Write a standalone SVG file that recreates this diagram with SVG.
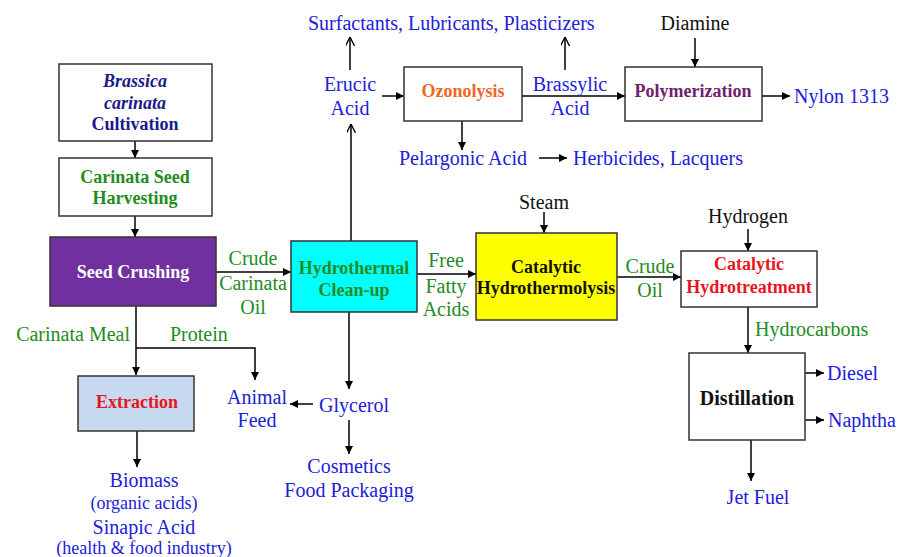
<svg xmlns="http://www.w3.org/2000/svg" width="898" height="557" viewBox="0 0 898 557" font-family="'Liberation Serif', Tinos, 'Times New Roman', 'DejaVu Serif', serif">
<defs>
<marker id="ah" viewBox="0 0 10 10" refX="10" refY="5" markerWidth="8" markerHeight="8" markerUnits="userSpaceOnUse" orient="auto">
<path d="M0,0 L10,5 L0,10 z" fill="#000"/>
</marker>
<marker id="oa" viewBox="0 0 10 10" refX="10" refY="5" markerWidth="9" markerHeight="9" markerUnits="userSpaceOnUse" orient="auto">
<path d="M0,0 L10,5 L0,10" fill="none" stroke="#000" stroke-width="1.5"/>
</marker>
</defs>
<style>
text{font-family:'Liberation Serif', Tinos, 'Times New Roman', 'DejaVu Serif', serif;font-size:20px}
.c{text-anchor:middle}
.b{font-weight:bold;font-size:18px}
.blue{fill:#2020d8}
.green{fill:#228b22}
.blk{fill:#111}
.box{stroke:#333;stroke-width:1.5;fill:#fff}
.ln{stroke:#000;stroke-width:1.5;fill:none}
.sm{font-size:18px}
</style>
<rect width="898" height="557" fill="#fff"/>

<g id="connectors">
<line class="ln" x1="135" y1="141" x2="135" y2="158" marker-end="url(#ah)"/>
<line class="ln" x1="135" y1="216" x2="135" y2="237" marker-end="url(#ah)"/>
<line class="ln" x1="216" y1="272" x2="291" y2="272" marker-end="url(#ah)"/>
<line class="ln" x1="351" y1="241" x2="351" y2="124" marker-end="url(#oa)"/>
<line class="ln" x1="350" y1="70" x2="350" y2="37" marker-end="url(#oa)"/>
<line class="ln" x1="382" y1="96" x2="404" y2="96" marker-end="url(#ah)"/>
<line class="ln" x1="522" y1="96" x2="625" y2="96" marker-end="url(#ah)"/>
<line class="ln" x1="565" y1="70" x2="565" y2="37" marker-end="url(#oa)"/>
<line class="ln" x1="462" y1="121" x2="462" y2="150" marker-end="url(#ah)"/>
<line class="ln" x1="539" y1="158" x2="567" y2="158" marker-end="url(#ah)"/>
<line class="ln" x1="695" y1="38" x2="695" y2="67" marker-end="url(#ah)"/>
<line class="ln" x1="762" y1="96" x2="790" y2="96" marker-end="url(#ah)"/>
<line class="ln" x1="417" y1="274" x2="476" y2="274" marker-end="url(#ah)"/>
<line class="ln" x1="544" y1="212" x2="544" y2="233" marker-end="url(#ah)"/>
<line class="ln" x1="617" y1="277" x2="681" y2="277" marker-end="url(#ah)"/>
<line class="ln" x1="748" y1="229" x2="748" y2="251" marker-end="url(#ah)"/>
<line class="ln" x1="748" y1="307" x2="748" y2="353" marker-end="url(#ah)"/>
<line class="ln" x1="805" y1="373" x2="824" y2="373" marker-end="url(#ah)"/>
<line class="ln" x1="805" y1="420" x2="824" y2="420" marker-end="url(#ah)"/>
<line class="ln" x1="751" y1="440" x2="751" y2="481" marker-end="url(#ah)"/>
<line class="ln" x1="136" y1="306" x2="136" y2="375" marker-end="url(#ah)"/>
<polyline class="ln" points="136,348 255,348 255,380" marker-end="url(#ah)"/>
<line class="ln" x1="349" y1="312" x2="349" y2="389" marker-end="url(#ah)"/>
<line class="ln" x1="313" y1="404" x2="290" y2="404" marker-end="url(#ah)"/>
<line class="ln" x1="349" y1="420" x2="349" y2="454" marker-end="url(#ah)"/>
<line class="ln" x1="137" y1="431" x2="137" y2="467" marker-end="url(#ah)"/>
</g>

<g id="cultivation">
<rect class="box" x="59" y="64" width="153" height="77"/>
<text class="c b" x="135" y="87" fill="#1a1a8c" font-style="italic">Brassica</text>
<text class="c b" x="135" y="109" fill="#1a1a8c" font-style="italic">carinata</text>
<text class="c b" x="135" y="130" fill="#1a1a8c">Cultivation</text>
</g>
<g id="harvesting">
<rect class="box" x="59" y="158" width="153" height="58"/>
<text class="c b green" x="135" y="183">Carinata Seed</text>
<text class="c b green" x="135" y="204">Harvesting</text>
</g>
<g id="crushing">
<rect x="50" y="237" width="166" height="69" fill="#7030a0" stroke="#333" stroke-width="1.5"/>
<text class="c b" x="133" y="278" fill="#fff">Seed Crushing</text>
</g>
<g id="crude-carinata-oil">
<text class="c green" x="253" y="265">Crude</text>
<text class="c green" x="253" y="290">Carinata</text>
<text class="c green" x="253" y="314">Oil</text>
</g>
<g id="hydrothermal">
<rect x="291" y="241" width="126" height="71" fill="#00ffff" stroke="#333" stroke-width="1.5"/>
<text class="c b green" x="354" y="274">Hydrothermal</text>
<text class="c b green" x="354" y="296">Clean-up</text>
</g>
<g id="erucic">
<text class="c blue" x="350" y="91">Erucic</text>
<text class="c blue" x="350" y="115">Acid</text>
</g>
<g id="surfactants">
<text class="blue" x="308" y="30">Surfactants, Lubricants, Plasticizers</text>
</g>
<g id="ozonolysis">
<rect class="box" x="404" y="67" width="118" height="54"/>
<text class="c b" x="463" y="97" fill="#f26522">Ozonolysis</text>
</g>
<g id="brassylic">
<text class="c blue" x="570" y="91">Brassylic</text>
<text class="c blue" x="570" y="115">Acid</text>
</g>
<g id="pelargonic">
<text class="blue" x="399" y="165">Pelargonic Acid</text>
</g>
<g id="herbicides">
<text class="blue" x="573" y="165">Herbicides, Lacquers</text>
</g>
<g id="diamine">
<text class="c blk" x="695" y="30">Diamine</text>
</g>
<g id="polymerization">
<rect class="box" x="625" y="67" width="137" height="54"/>
<text class="c b" x="693" y="97" fill="#70206e">Polymerization</text>
</g>
<g id="nylon">
<text class="blue" x="794" y="103">Nylon 1313</text>
</g>
<g id="ffa">
<text class="c green" x="446" y="267">Free</text>
<text class="c green" x="446" y="293">Fatty</text>
<text class="c green" x="446" y="316">Acids</text>
</g>
<g id="steam">
<text class="c blk" x="544" y="209">Steam</text>
</g>
<g id="hydrothermolysis">
<rect x="476" y="233" width="141" height="87" fill="#ffff00" stroke="#333" stroke-width="1.5"/>
<text class="c b blk" x="546" y="273">Catalytic</text>
<text class="c b blk" x="546" y="294">Hydrothermolysis</text>
</g>
<g id="crude-oil">
<text class="c green" x="650" y="273">Crude</text>
<text class="c green" x="650" y="297">Oil</text>
</g>
<g id="hydrogen">
<text class="c blk" x="748" y="223">Hydrogen</text>
</g>
<g id="hydrotreatment">
<rect class="box" x="681" y="251" width="136" height="56"/>
<text class="c b" x="749" y="270" fill="#e8141e">Catalytic</text>
<text class="c b" x="749" y="293" fill="#e8141e">Hydrotreatment</text>
</g>
<g id="hydrocarbons">
<text class="green" x="755" y="336">Hydrocarbons</text>
</g>
<g id="distillation">
<rect class="box" x="689" y="353" width="116" height="87"/>
<text class="c blk" x="747" y="405" font-weight="bold">Distillation</text>
</g>
<g id="diesel"><text class="blue" x="827" y="380">Diesel</text></g>
<g id="naphtha"><text class="blue" x="828" y="427">Naphtha</text></g>
<g id="jetfuel"><text class="c blue" x="758" y="504">Jet Fuel</text></g>
<g id="carinata-meal"><text class="green" x="130" y="341" text-anchor="end">Carinata Meal</text></g>
<g id="protein"><text class="green" x="170" y="341">Protein</text></g>
<g id="extraction">
<rect x="78" y="376" width="116" height="55" fill="#c6d9f1" stroke="#333" stroke-width="1.5"/>
<text class="c b" x="137" y="408" fill="#e8141e">Extraction</text>
</g>
<g id="animal-feed">
<text class="c blue" x="257" y="404">Animal</text>
<text class="c blue" x="257" y="427">Feed</text>
</g>
<g id="glycerol"><text class="c blue" x="354" y="412">Glycerol</text></g>
<g id="cosmetics">
<text class="c blue" x="349" y="473">Cosmetics</text>
<text class="c blue" x="349" y="497">Food Packaging</text>
</g>
<g id="biomass">
<text class="c blue" x="144" y="487">Biomass</text>
<text class="c blue sm" x="144" y="509">(organic acids)</text>
<text class="c blue" x="144" y="534">Sinapic Acid</text>
<text class="c blue sm" x="144" y="554">(health &amp; food industry)</text>
</g>
</svg>
